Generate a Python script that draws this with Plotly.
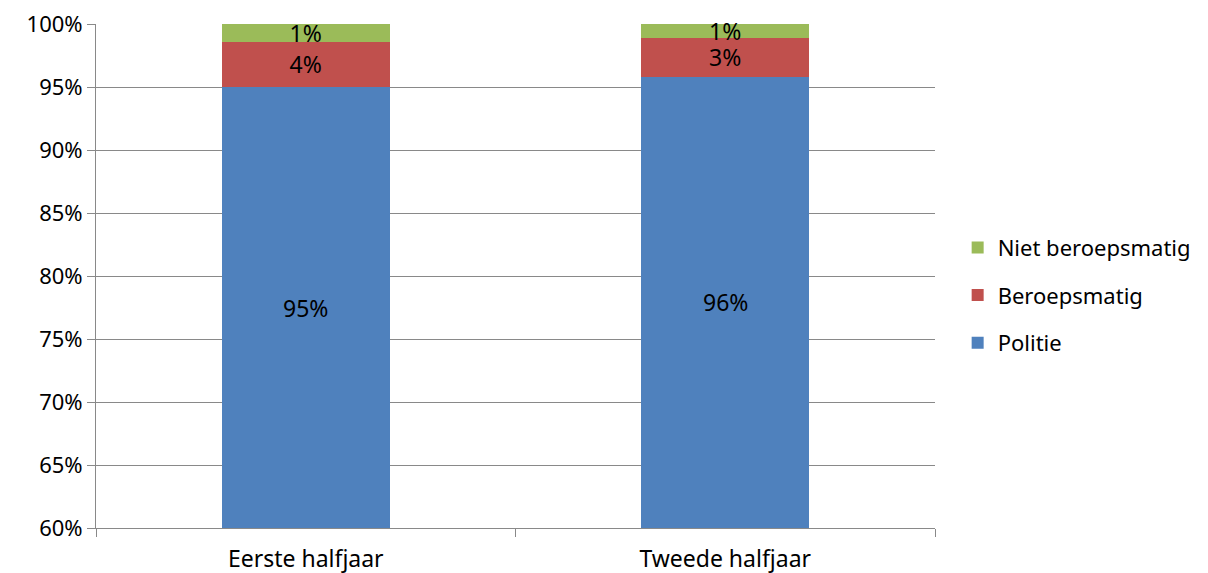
import plotly.graph_objects as go

categories = ["Eerste halfjaar", "Tweede halfjaar"]
politie = [95.0, 95.8]
beroepsmatig = [3.6, 3.1]
niet_beroepsmatig = [1.4, 1.1]
y_ticks = [60, 65, 70, 75, 80, 85, 90, 95, 100]

series = [
    ("Politie", politie, "#4F81BD"),
    ("Beroepsmatig", beroepsmatig, "#C0504D"),
    ("Niet beroepsmatig", niet_beroepsmatig, "#9BBB59"),
]
FONT = "Noto Sans"
y_min, y_max = 60, 100

fig = go.Figure()
for i, (name, vals, col) in enumerate(series):
    show_text = name != "Politie"  # politie label goes in the visible part (annotation)
    fig.add_trace(go.Bar(
        x=categories, y=vals, name=name, legendgroup=name,
        legendrank=len(series) - i,
        marker_color=col, marker_line_width=0,
        text=[f"{round(v)}%" for v in vals] if show_text else None,
        textposition="inside", insidetextanchor="middle",
        textfont=dict(color="black", size=23, family=FONT),
        constraintext="none", cliponaxis=False,
    ))

# label for the blue bars, centred on the visible part of the bar
for cat, v in zip(categories, politie):
    fig.add_annotation(x=cat, y=(y_min + v) / 2, text=f"{round(v)}%",
                       showarrow=False, font=dict(size=23, color="black", family=FONT))

# page body has an 8px margin, so the figure is a bit smaller than the window
fig.update_layout(
    barmode="stack", bargap=0.6,
    width=1200, height=565,
    margin=dict(l=88, r=270, t=16, b=45),
    plot_bgcolor="white", paper_bgcolor="white",
    font=dict(family=FONT, size=22, color="black"),
    uniformtext=dict(mode="show", minsize=23),
    legend=dict(
        traceorder="grouped", x=1.027, y=0.462, yanchor="middle",
        xanchor="left", font=dict(size=22), itemwidth=30,
        tracegroupgap=16, bgcolor="rgba(0,0,0,0)",
    ),
    showlegend=True,
)
fig.update_yaxes(
    range=[y_min, y_max], tickvals=y_ticks, ticktext=[f"{t}%" for t in y_ticks],
    showgrid=True, gridcolor="#898989", gridwidth=1,
    showline=True, linecolor="#898989", linewidth=1,
    ticks="outside", ticklen=8, tickcolor="#898989",
    zeroline=False, automargin=False, tickfont=dict(size=22),
    ticklabeloverflow="allow",
)
fig.update_xaxes(
    showline=True, linecolor="#898989", linewidth=1,
    ticks="outside", ticklen=8, tickcolor="#898989", tickson="boundaries",
    showgrid=False, automargin=False, tickfont=dict(size=23),
    ticklabelstandoff=10, ticklabeloverflow="allow",
)

fig.write_html("out.html")
